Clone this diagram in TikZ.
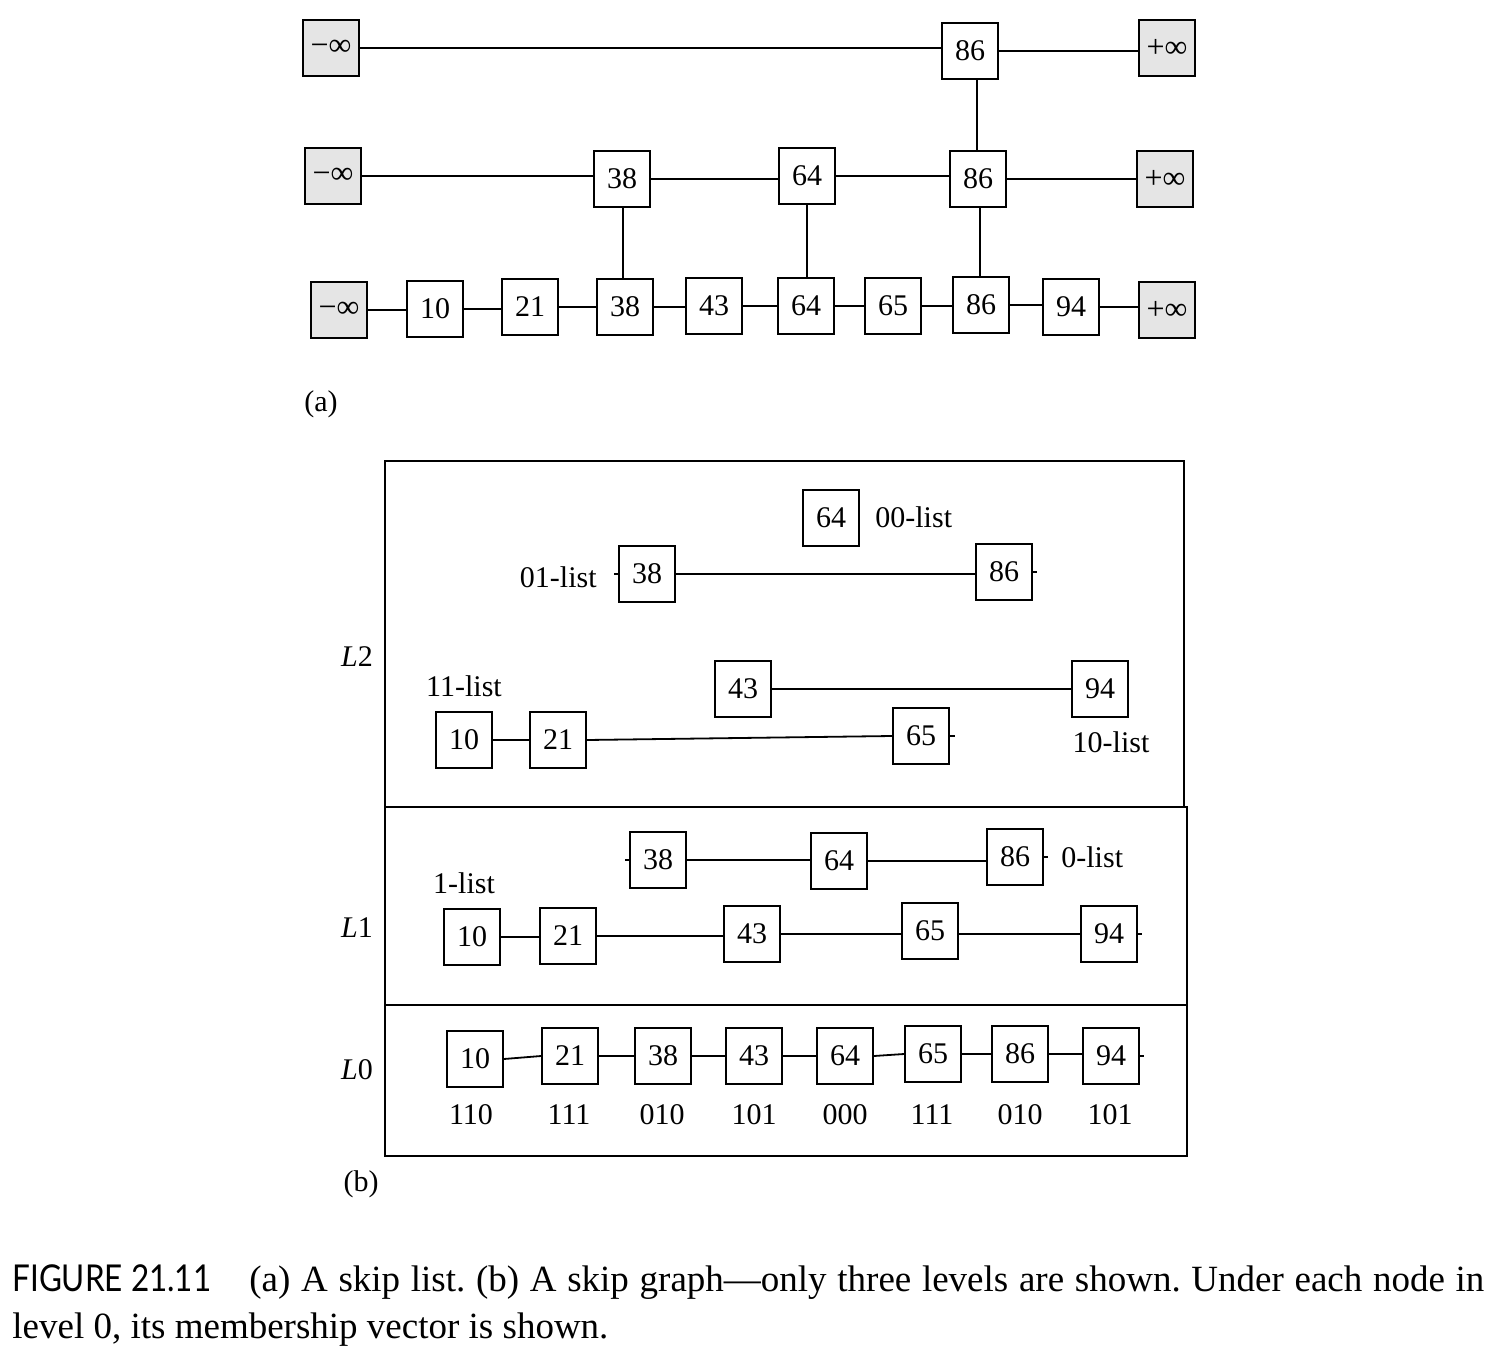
\documentclass[tikz,border=0pt]{standalone}
\usepackage{fontspec}
\usepackage{graphicx}
\setmainfont{Liberation Serif}
\newfontfamily\capsans{Lato}
\usetikzlibrary{calc}
\tikzset{
  bx/.style={draw, line width=0.9pt, minimum size=28pt, inner sep=0pt, fill=white, font=\fontsize{15}{18}\selectfont},
  infbox/.style={bx, fill=gray!20, font=\fontsize{16}{18}\selectfont},
  lbl/.style={inner sep=0pt, font=\fontsize{15}{18}\selectfont},
  lnk/.style={line width=0.9pt},
  frame/.style={line width=0.9pt}
}
\newcommand\hlink[2]{\draw[lnk] (#1.east) -- (#1.east -| #2.west);}
\begin{document}
\begin{tikzpicture}[x=0.5pt, y=-0.5pt]
\useasboundingbox (0,0) rectangle (1498,1358);
% ---------- (a) skip list ----------
\node[infbox] (m1) at (331,48) {−∞};
\node[bx] (a86) at (970,51) {86};
\node[infbox] (p1) at (1167,48) {+∞};
\node[infbox] (m2) at (333,176) {−∞};
\node[bx] (b38) at (622,179) {38};
\node[bx] (b64) at (807,176) {64};
\node[bx] (b86) at (978,179) {86};
\node[infbox] (p2) at (1165,179) {+∞};
\node[infbox] (m3) at (339,310) {−∞};
\node[bx] (c10) at (435,309) {10};
\node[bx] (c21) at (530,307) {21};
\node[bx] (c38) at (625,307) {38};
\node[bx] (c43) at (714,306) {43};
\node[bx] (c64) at (806,306) {64};
\node[bx] (c65) at (893,306) {65};
\node[bx] (c86) at (981,305) {86};
\node[bx] (c94) at (1071,307) {94};
\node[infbox] (p3) at (1167,310) {+∞};
\hlink{m1}{a86}
\draw[lnk] (a86.east) -- (a86.east -| p1.west);
\hlink{m2}{b38}
\hlink{b38}{b64}
\draw[lnk] (b64.east) -- (b64.east -| b86.west);
\hlink{b86}{p2}
\draw[lnk] (m3.east) -- (m3.east -| c10.west);
\hlink{c10}{c21}
\hlink{c21}{c38}
\hlink{c38}{c43}
\hlink{c43}{c64}
\hlink{c64}{c65}
\hlink{c65}{c86}
\hlink{c86}{c94}
\hlink{c94}{p3}
\draw[lnk] (b86.north -| 977,0) -- (a86.south -| 977,0);
\draw[lnk] (b38.south -| 623,0) -- (c38.north -| 623,0);
\draw[lnk] (b64.south) -- (c64.north -| b64.south);
\draw[lnk] (b86.south -| 980,0) -- (c86.north -| 980,0);
\node[lbl] (la) at (321,404) {(a)};
% ---------- (b) skip graph ----------
\draw[frame] (385,461) rectangle (1184,807);
\draw[frame] (385,807) rectangle (1187,1005);
\draw[frame] (385,1005) rectangle (1187,1156);
\node[lbl] (L2) at (357,657) {\textit{L}2};
\node[lbl] (L1) at (357,928) {\textit{L}1};
\node[lbl] (L0) at (357,1070) {\textit{L}0};
\node[lbl] (lb) at (361,1184) {(b)};
% L2
\node[bx] (d64) at (831,518) {64};
\node[lbl, anchor=west] (t00) at (875,517) {00-list};
\node[bx] (d38) at (647,574) {38};
\node[lbl, anchor=east] (t01) at (597,577) {01-list};
\node[bx] (d86) at (1004,572) {86};
\coordinate (k1) at ($(d38.west)+(-4,0)$);
\coordinate (k2) at ($(d86.east)+(4,0)$);
\draw[lnk] (k1) -- (d38.west);
\hlink{d38}{d86}
\draw[lnk] (d86.east) -- (k2);
\node[bx] (d43) at (743,689) {43};
\node[bx] (d94) at (1100,689) {94};
\hlink{d43}{d94}
\node[lbl] (t10) at (1111,742) {10-list};
\node[lbl] (t11) at (464,686) {11-list};
\node[bx] (d10) at (464,740) {10};
\node[bx] (d21) at (558,740) {21};
\node[bx] (d65) at (921,736) {65};
\coordinate (k3) at ($(d65.east)+(5,0)$);
\hlink{d10}{d21}
\draw[lnk] (d21.east) -- (d65.west);
\draw[lnk] (d65.east) -- (k3);
% L1
\node[bx] (e38) at (658,860) {38};
\node[bx] (e64) at (839,861) {64};
\node[bx] (e86) at (1015,857) {86};
\node[lbl, anchor=west] (t0) at (1061,857) {0-list};
\coordinate (k4) at ($(e38.west)+(-4,0)$);
\coordinate (k5) at ($(e86.east)+(4,0)$);
\draw[lnk] (k4) -- (e38.west);
\hlink{e38}{e64}
\hlink{e64}{e86}
\draw[lnk] (e86.east) -- (k5);
\node[lbl] (t1) at (464,883) {1-list};
\node[bx] (e10) at (472,937) {10};
\node[bx] (e21) at (568,936) {21};
\node[bx] (e43) at (752,934) {43};
\node[bx] (e65) at (930,931) {65};
\node[bx] (e94) at (1109,934) {94};
\coordinate (k6) at ($(e94.east)+(4,0)$);
\hlink{e10}{e21}
\hlink{e21}{e43}
\hlink{e43}{e65}
\draw[lnk] (e65.east |- e94.west) -- (e94.west);
\draw[lnk] (e94.east) -- (k6);
% L0
\node[bx] (f10) at (475,1059) {10};
\node[bx] (f21) at (570,1056) {21};
\node[bx] (f38) at (663,1056) {38};
\node[bx] (f43) at (754,1056) {43};
\node[bx] (f64) at (845,1056) {64};
\node[bx] (f65) at (933,1054) {65};
\node[bx] (f86) at (1020,1054) {86};
\node[bx] (f94) at (1111,1056) {94};
\coordinate (k7) at ($(f94.east)+(4,0)$);
\draw[lnk] (f10.east) -- (f21.west);
\hlink{f21}{f38}
\hlink{f38}{f43}
\hlink{f43}{f64}
\draw[lnk] (f64.east) -- (f65.west);
\hlink{f65}{f86}
\hlink{f86}{f94}
\draw[lnk] (f94.east) -- (k7);
\node[lbl] (v1) at (471,1115) {110};
\node[lbl] (v2) at (569,1115) {111};
\node[lbl] (v3) at (662,1115) {010};
\node[lbl] (v4) at (754,1115) {101};
\node[lbl] (v5) at (845,1115) {000};
\node[lbl] (v6) at (932,1115) {111};
\node[lbl] (v7) at (1020,1115) {010};
\node[lbl] (v8) at (1110,1115) {101};
% ---------- caption ----------
\node[inner sep=0pt, anchor=base west, font=\fontsize{18.5}{23.5}\selectfont\frenchspacing] (cap1) at (12,1291)
  {\makebox[736pt][s]{\scalebox{0.85}[1]{\capsans FIGURE 21.11}\hspace*{19pt}(a) A skip list. (b) A skip graph---only three levels are shown. Under each node in}};
\node[inner sep=0pt, anchor=base west, font=\fontsize{18.5}{23.5}\selectfont] (cap2) at (12,1338)
  {level 0, its membership vector is shown.};
\end{tikzpicture}
\end{document}
